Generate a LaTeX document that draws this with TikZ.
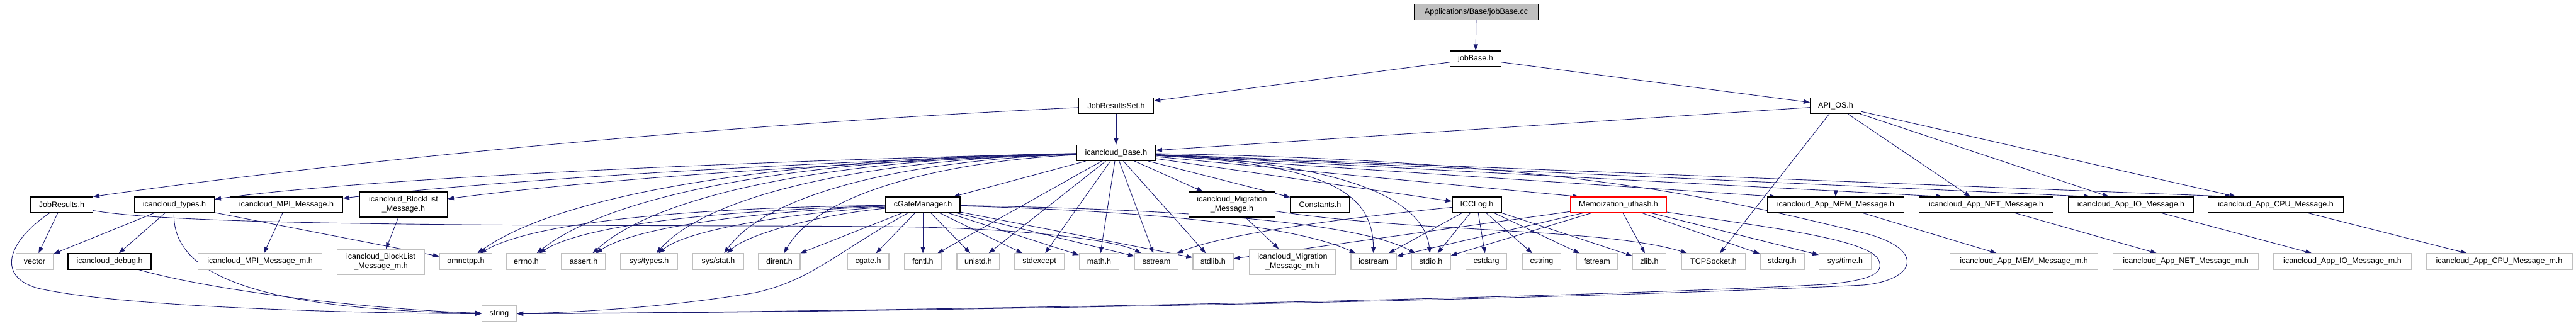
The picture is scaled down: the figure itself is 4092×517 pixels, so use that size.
\documentclass[tikz,border=0pt]{standalone}
\usepackage{fontspec}
\setmainfont{Liberation Sans}
\usetikzlibrary{arrows.meta}
\definecolor{edgec}{HTML}{191970}
\definecolor{gr}{HTML}{BFBFBF}
\pgfdeclarelayer{bg}
\pgfsetlayers{bg,main}
\begin{document}
\begin{tikzpicture}[x=1pt,y=-1pt,
  every node/.style={font=\fontsize{12.5}{15.5}\selectfont, inner sep=0pt, minimum height=25pt, align=center},
  doc/.style={draw=black, line width=1.1pt, fill=white},
  ext/.style={draw=gr, line width=1.1pt, fill=white},
  redbox/.style={draw=red, line width=1.1pt, fill=white},
  rootbox/.style={draw=black, line width=1.1pt, fill=gr},
  two/.style={minimum height=40pt},
  dep/.style={draw=edgec, line width=0.9pt, -{Triangle[length=10pt,width=7pt]}}]
\useasboundingbox (0,0) rectangle (4092,517);
% rows 0-3
\node[rootbox, minimum width=197pt] (root) at (2345,19) {Applications/Base/jobBase.cc};
\node[doc, minimum width=81pt] (jobbase) at (2344,93.5) {jobBase.h};
\node[doc, minimum width=119pt] (jrs) at (1773,168) {JobResultsSet.h};
\node[doc, minimum width=81pt] (apios) at (2916,168) {API\_OS.h};
\node[doc, minimum width=125pt] (base) at (1773,243) {icancloud\_Base.h};
% row 4
\node[doc, minimum width=99pt] (jobres) at (98,325.5) {JobResults.h};
\node[doc, minimum width=127pt] (types) at (277,325.5) {icancloud\_types.h};
\node[doc, minimum width=179pt] (mpi) at (455,325.5) {icancloud\_MPI\_Message.h};
\node[doc, two, minimum width=139pt] (block) at (641,325) {icancloud\_BlockList\\\_Message.h};
\node[doc, minimum width=118pt] (cgate) at (1466,325.5) {cGateManager.h};
\node[doc, two, minimum width=137pt] (migr) at (1957,325) {icancloud\_Migration\\\_Message.h};
\node[doc, minimum width=94pt] (const) at (2097,325.5) {Constants.h};
\node[doc, minimum width=78pt] (icclog) at (2346,325.5) {ICCLog.h};
\node[redbox, minimum width=153pt] (memo) at (2571,325.5) {Memoization\_uthash.h};
\node[doc, minimum width=217pt] (mem) at (2916,325.5) {icancloud\_App\_MEM\_Message.h};
\node[doc, minimum width=213pt] (net) at (3155,325.5) {icancloud\_App\_NET\_Message.h};
\node[doc, minimum width=199pt] (io) at (3385,325.5) {icancloud\_App\_IO\_Message.h};
\node[doc, minimum width=215pt] (cpu) at (3615,325.5) {icancloud\_App\_CPU\_Message.h};
% row 5
\node[ext, minimum width=59pt] (vector) at (55,415.5) {vector};
\node[doc, minimum width=132pt] (debug) at (174,415.5) {icancloud\_debug.h};
\node[ext, minimum width=197pt] (mpim) at (413,415.5) {icancloud\_MPI\_Message\_m.h};
\node[ext, two, minimum width=139pt] (blockm) at (605,416) {icancloud\_BlockList\\\_Message\_m.h};
\node[ext, minimum width=83pt] (omnetpp) at (740,415.5) {omnetpp.h};
\node[ext, minimum width=63pt] (errno) at (836,415.5) {errno.h};
\node[ext, minimum width=70pt] (assert) at (927,415.5) {assert.h};
\node[ext, minimum width=91pt] (systypes) at (1031,415.5) {sys/types.h};
\node[ext, minimum width=81pt] (sysstat) at (1141,415.5) {sys/stat.h};
\node[ext, minimum width=66pt] (dirent) at (1238,415.5) {dirent.h};
\node[ext, minimum width=66pt] (cgateh) at (1379,415.5) {cgate.h};
\node[ext, minimum width=58pt] (fcntl) at (1466,415.5) {fcntl.h};
\node[ext, minimum width=68pt] (unistd) at (1554,415.5) {unistd.h};
\node[ext, minimum width=79pt] (stdexcept) at (1651,415.5) {stdexcept};
\node[ext, minimum width=63pt] (math) at (1746,415.5) {math.h};
\node[ext, minimum width=69pt] (sstream) at (1837,415.5) {sstream};
\node[ext, minimum width=64pt] (stdlib) at (1927,415.5) {stdlib.h};
\node[ext, two, minimum width=137pt] (migrm) at (2053,416) {icancloud\_Migration\\\_Message\_m.h};
\node[ext, minimum width=72pt] (iostream) at (2182,415.5) {iostream};
\node[ext, minimum width=62pt] (stdio) at (2273,415.5) {stdio.h};
\node[ext, minimum width=65pt] (cstdarg) at (2361,415.5) {cstdarg};
\node[ext, minimum width=61pt] (cstring) at (2449,415.5) {cstring};
\node[ext, minimum width=66pt] (fstream) at (2537,415.5) {fstream};
\node[ext, minimum width=53pt] (zlib) at (2620,415.5) {zlib.h};
\node[ext, minimum width=102pt] (tcp) at (2722,415.5) {TCPSocket.h};
\node[ext, minimum width=70pt] (stdarg) at (2831,415.5) {stdarg.h};
\node[ext, minimum width=83pt] (systime) at (2931,415.5) {sys/time.h};
\node[ext, minimum width=235pt] (memm) at (3215,415.5) {icancloud\_App\_MEM\_Message\_m.h};
\node[ext, minimum width=231pt] (netm) at (3472,415.5) {icancloud\_App\_NET\_Message\_m.h};
\node[ext, minimum width=218pt] (iom) at (3721,415.5) {icancloud\_App\_IO\_Message\_m.h};
\node[ext, minimum width=232pt] (cpum) at (3970,415.5) {icancloud\_App\_CPU\_Message\_m.h};
% row 6
\node[ext, minimum width=55pt] (string) at (793,498.5) {string};

\begin{pgfonlayer}{bg}
% top
\draw[dep] (root) -- (jobbase);
\draw[dep] (jobbase) -- (jrs);
\draw[dep] (jobbase) -- (apios);
\draw[dep] (jrs) -- (base);
\draw[dep] (jrs) .. controls (1100,200) and (500,262) .. (jobres.north east);
\draw[dep] (apios) -- (base);
% API_OS
\draw[dep] (apios) -- (tcp);
\draw[dep] (apios) -- (mem);
\draw[dep] (apios) -- ([xshift=82pt]net.north west);
\draw[dep] (apios) -- ([xshift=65pt]io.north west);
\draw[dep] (apios) -- ([xshift=45pt]cpu.north west);
% base to row 4
\draw[dep] (base) .. controls (1300,252) and (600,280) .. (types);
\draw[dep] (base) .. controls (1300,256) and (800,285) .. (mpi);
\draw[dep] (base) .. controls (1300,260) and (950,285) .. (block);
\draw[dep] (base) -- (cgate);
\draw[dep] (base) -- (migr);
\draw[dep] (base) -- (const);
\draw[dep] (base) -- (icclog);
\draw[dep] (base) -- ([xshift=14pt]memo.north west);
\draw[dep] (base) -- ([xshift=14pt]mem.north west);
\draw[dep] (base) -- ([xshift=38pt]net.north west);
\draw[dep] (base) -- ([xshift=36pt]io.north west);
\draw[dep] (base) -- ([xshift=38pt]cpu.north west);
% base to row 5
\draw[dep] (base) .. controls (1282,250) and (902,300) .. (omnetpp);
\draw[dep] (base) .. controls (1300,251) and (980,302) .. (errno);
\draw[dep] (base) .. controls (1340,252) and (1050,304) .. (assert);
\draw[dep] (base) .. controls (1390,253) and (1130,305) .. (systypes);
\draw[dep] (base) .. controls (1450,254) and (1220,305) .. (sysstat);
\draw[dep] (base) .. controls (1505,256) and (1300,305) .. (dirent);
\draw[dep] (base) -- (fcntl);
\draw[dep] (base) -- (unistd);
\draw[dep] (base) -- (stdexcept);
\draw[dep] (base) -- (math);
\draw[dep] (base) -- (sstream);
\draw[dep] (base) -- (stdlib);
\draw[dep] (base) .. controls (2100,262) and (2180,300) .. (iostream);
\draw[dep] (base) .. controls (2150,260) and (2262,320) .. (stdio);
\draw[dep] (base) .. controls (2500,255) and (2750,320) .. (2960,370) .. controls (3060,395) and (3045,445) .. (2960,453) .. controls (2400,480) and (1300,497) .. (string);
% cGateManager
\draw[dep] (cgate) .. controls (1100,330) and (850,352) .. (omnetpp);
\draw[dep] (cgate) .. controls (1150,334) and (930,356) .. (errno);
\draw[dep] (cgate) .. controls (1200,336) and (1010,360) .. (assert);
\draw[dep] (cgate) .. controls (1260,338) and (1090,365) .. (systypes);
\draw[dep] (cgate) .. controls (1310,340) and (1190,370) .. (sysstat);
\draw[dep] (cgate) -- (dirent);
\draw[dep] (cgate) -- (cgateh);
\draw[dep] (cgate) -- (fcntl);
\draw[dep] (cgate) -- (unistd);
\draw[dep] (cgate) -- (stdexcept);
\draw[dep] (cgate) -- (math);
\draw[dep] (cgate) -- (sstream);
\draw[dep] (cgate) -- (stdlib);
\draw[dep] (cgate) .. controls (1800,335) and (2050,355) .. (iostream);
\draw[dep] (cgate) .. controls (1850,332) and (2150,350) .. (stdio);
\draw[dep] (cgate) .. controls (1330,400) and (1290,445) .. (1200,465) .. controls (1050,490) and (900,497) .. (string);
% left group
\draw[dep] (jobres) -- (vector);
\draw[dep] (jobres) .. controls (10,385) and (-5,440) .. (60,458) .. controls (200,490) and (600,498) .. (string);
\draw[dep] (jobres) .. controls (300,362) and (1000,357) .. (1400,360) .. controls (1650,362) and (1780,385) .. (sstream);
\draw[dep] (types) -- (vector);
\draw[dep] (types) -- (debug);
\draw[dep] (types) -- (omnetpp);
\draw[dep] (types) .. controls (272,450) and (450,492) .. (string);
\draw[dep] (debug) .. controls (350,465) and (600,492) .. (string);
\draw[dep] (mpi) -- (mpim);
\draw[dep] (block) -- (blockm);
\draw[dep] (migr) -- (migrm);
\draw[dep] (migr) .. controls (2250,370) and (2550,362) .. (tcp);
% ICCLog
\draw[dep] (icclog) .. controls (2150,345) and (1950,370) .. (sstream);
\draw[dep] (icclog) -- (iostream);
\draw[dep] (icclog) -- (stdio);
\draw[dep] (icclog) -- (cstdarg);
\draw[dep] (icclog) -- (cstring);
\draw[dep] (icclog) -- (fstream);
\draw[dep] (icclog) -- (zlib);
% Memoization
\draw[dep] (memo) -- (stdlib);
\draw[dep] (memo) -- (iostream);
\draw[dep] (memo) -- (stdio);
\draw[dep] (memo) -- (zlib);
\draw[dep] (memo) -- (stdarg);
\draw[dep] (memo) -- (systime);
\draw[dep] (memo) .. controls (2800,360) and (2975,380) .. (2985,415) .. controls (2995,440) and (2950,447) .. (2900,452) .. controls (2400,478) and (1300,496) .. (string);
% messages
\draw[dep] (mem) -- (memm);
\draw[dep] (net) -- (netm);
\draw[dep] (io) -- (iom);
\draw[dep] (cpu) -- (cpum);
\end{pgfonlayer}
\end{tikzpicture}
\end{document}
